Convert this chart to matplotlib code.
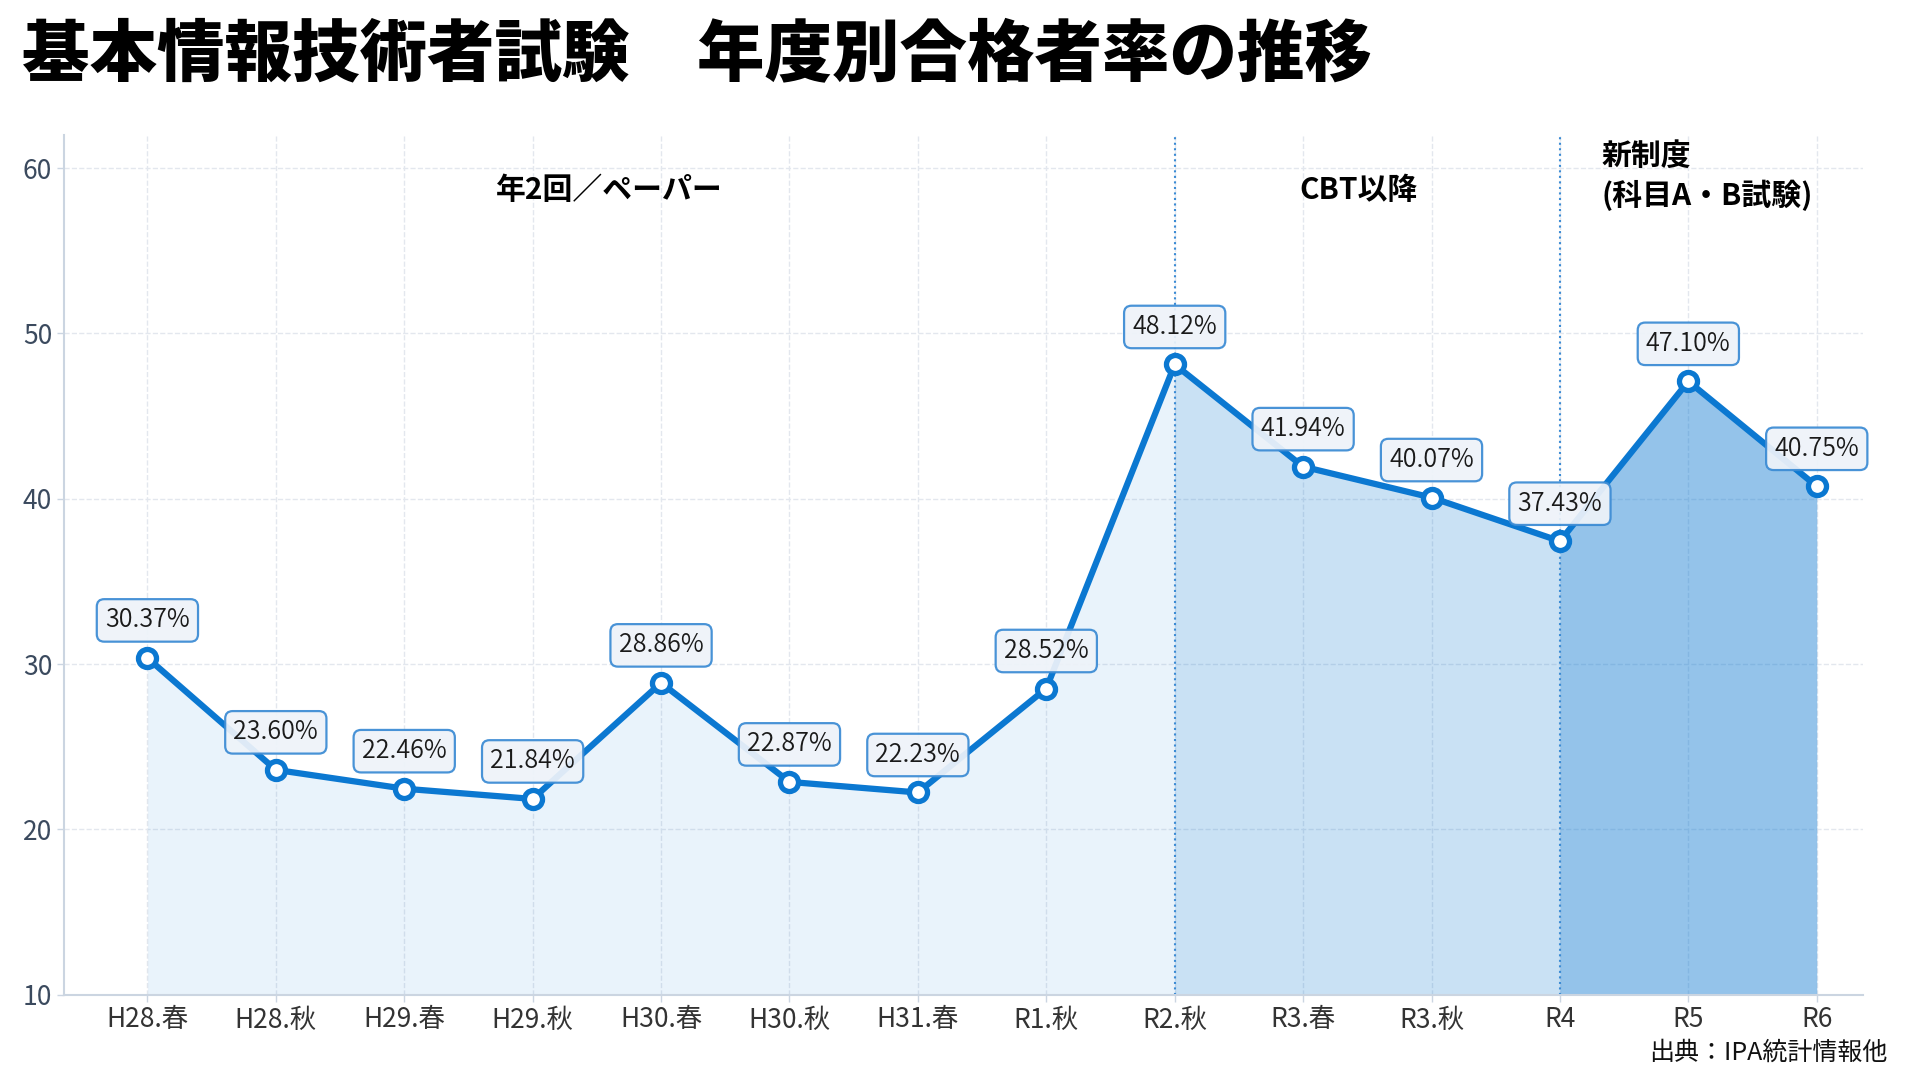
import matplotlib
matplotlib.use('Agg')
import matplotlib.pyplot as plt

plt.rcParams['font.family'] = ['Noto Sans CJK JP', 'DejaVu Sans']

# ===================== Data =====================
labels = ['H28.春', 'H28.秋', 'H29.春', 'H29.秋', 'H30.春', 'H30.秋', 'H31.春',
          'R1.秋', 'R2.秋', 'R3.春', 'R3.秋', 'R4', 'R5', 'R6']
rates = [30.37, 23.60, 22.46, 21.84, 28.86, 22.87, 22.23,
         28.52, 48.12, 41.94, 40.07, 37.43, 47.10, 40.75]

# period boundaries (index into labels) and names
period_starts = [0, 8, 11]
period_ends = [8, 11, 13]
period_alpha = [0.085, 0.22, 0.44]
period_names = ['年2回／ペーパー', 'CBT以降', '新制度\n(科目A・B試験)']
period_text_x = [3.6, 9.43, 11.32]
period_text_y = [58.7, 58.7, 59.5]
period_text_ha = ['center', 'center', 'left']

blue = '#0b78d1'
x = list(range(len(labels)))

# ===================== Figure =====================
fig = plt.figure(figsize=(19.2, 10.8), dpi=100)
ax = fig.add_axes([0.0333, 0.079, 0.937, 0.796])

for s, e, a in zip(period_starts, period_ends, period_alpha):
    xs = x[s:e + 1]
    ys = rates[s:e + 1]
    ax.fill_between(xs, ys, 10, color=blue, alpha=a, linewidth=0, zorder=1)

for b in period_starts[1:]:
    ax.axvline(b, color='#3b8bd4', linestyle=':', linewidth=1.5, zorder=2)

ax.plot(x, rates, color=blue, linewidth=4.5, marker='o', markersize=13,
        markerfacecolor='white', markeredgecolor=blue, markeredgewidth=3.8,
        zorder=4)

for xi, v in zip(x, rates):
    ax.annotate(f'{v:.2f}%', (xi, v), xytext=(0, 27), textcoords='offset points',
                ha='center', va='center', fontsize=18, fontweight=350,
                color='#1a1a1a', zorder=5,
                bbox=dict(boxstyle='round,pad=0.33,rounding_size=0.3',
                          facecolor='#eef3f9', edgecolor='#3b8bd4', linewidth=1.6,
                          alpha=0.93))

for name, tx, ty, ha in zip(period_names, period_text_x, period_text_y, period_text_ha):
    ax.text(tx, ty, name, ha=ha, va='center', fontsize=21.5, fontweight='bold',
            color='black', linespacing=1.35, zorder=5)

ax.set_xlim(-0.65, 13.36)
ax.set_ylim(10, 62)
ax.set_xticks(x)
ax.set_xticklabels(labels)
ax.set_yticks([10, 20, 30, 40, 50, 60])
ax.tick_params(axis='both', labelsize=19, colors='#cbd5e1', labelcolor='#3b4a5e',
               length=5, width=1)
ax.tick_params(axis='x', labelcolor='#333333')

ax.grid(True, linestyle='--', color='#e3e7ee', linewidth=1, zorder=0)
ax.set_axisbelow(True)
for side in ['top', 'right']:
    ax.spines[side].set_visible(False)
for side in ['left', 'bottom']:
    ax.spines[side].set_color('#cbd5e1')
    ax.spines[side].set_linewidth(1.5)

fig.text(0.0115, 0.949, '基本情報技術者試験　年度別合格者率の推移', ha='left', va='center',
         fontsize=48.6, fontweight='black', color='black')
fig.text(0.983, 0.025, '出典：IPA統計情報他', ha='right', va='center',
         fontsize=18, color='#111111')

fig.savefig('out.png', dpi=100)
